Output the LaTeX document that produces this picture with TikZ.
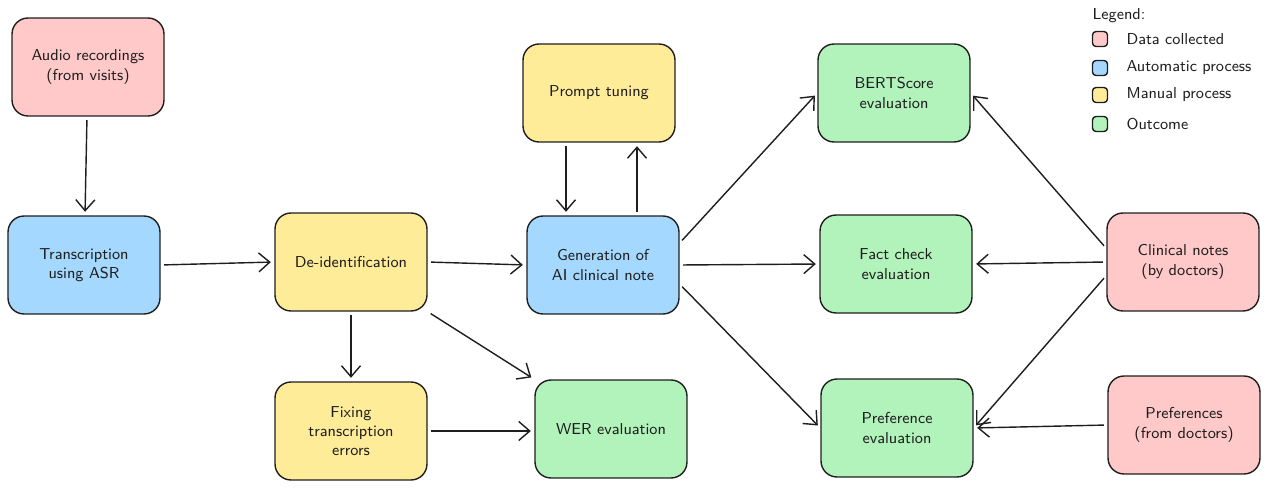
\documentclass[tikz,border=0pt]{standalone}
\usepackage{tikz}
\usetikzlibrary{arrows.meta,positioning,calc}

\definecolor{datacol}{HTML}{FFC9C9}
\definecolor{autocol}{HTML}{A5D8FF}
\definecolor{manualcol}{HTML}{FFEC99}
\definecolor{outcol}{HTML}{B2F2BB}
\definecolor{pen}{HTML}{1E1E1E}

\begin{document}
\begin{tikzpicture}[x=0.02cm,y=-0.02cm,->,>={Straight Barb[length=2.2mm,width=3.8mm]},
  thick,draw=pen,shorten >=2pt,shorten <=2pt,
  box/.style={draw=pen,thick,rounded corners=0.32cm,minimum width=3.04cm,
    minimum height=1.96cm,align=center,font=\sffamily\small,text=pen},
  data/.style={box,fill=datacol},
  auto proc/.style={box,fill=autocol},
  manual proc/.style={box,fill=manualcol},
  outcome/.style={box,fill=outcol},
  key/.style={draw=pen,thick,rounded corners=0.07cm,minimum size=0.3cm,inner sep=0pt},
  key text/.style={anchor=west,font=\sffamily\small,text=pen}]
    \useasboundingbox (0,0) rectangle (1269,490);

    \node[data](audio) at (88,67) {Audio recordings\\(from visits)};
    \node[auto proc](asr) at (84,265) {Transcription\\using ASR};
    \node[manual proc](deid) at (351,262) {De-identification};
    \node[manual proc](fix) at (351,431) {Fixing\\transcription\\errors};
    \node[outcome](wer) at (611,429) {WER evaluation};
    \node[manual proc](prompt) at (599,93) {Prompt tuning};
    \node[auto proc](gen) at (603,265) {Generation of\\AI clinical note};
    \node[outcome](bert) at (894,93) {BERTScore\\evaluation};
    \node[outcome](fact) at (896,264) {Fact check\\evaluation};
    \node[outcome](pref) at (897,428) {Preference\\evaluation};
    \node[data](notes) at (1183,262) {Clinical notes\\(by doctors)};
    \node[data](prefs) at (1184,425) {Preferences\\(from doctors)};

    % legend
    \node[key text,anchor=west](legend) at (1086,16) {Legend:};
    \node[key,fill=datacol](k1) at (1100,39) {};
    \node[key,fill=autocol](k2) at (1100,68) {};
    \node[key,fill=manualcol](k3) at (1100,95) {};
    \node[key,fill=outcol](k4) at (1100,124) {};
    \node[key text] at (1120,39) {Data collected};
    \node[key text] at (1120,68) {Automatic process};
    \node[key text] at (1120,95) {Manual process};
    \node[key text] at (1120,124) {Outcome};

    \draw (audio) -- (asr);
    \draw (asr.east) -- (deid.west);
    \draw (deid.east) -- (gen.west);
    \draw (deid.south) -- (fix.north);
    \draw (deid.south east) -- (wer.north west);
    \draw (fix.east) -- (fix.east -| wer.west);
    \draw ($(prompt.south)+(-33,0)$) -- ($(gen.north)+(-37,0)$);
    \draw ($(gen.north)+(34,0)$) -- ($(prompt.south)+(38,0)$);
    \draw (gen.16) -- (bert.west);
    \draw (gen.east) -- (fact.west);
    \draw (gen.-14) -- (pref.west);
    \draw (notes.170) -- (bert.east);
    \draw (notes.west) -- (fact.east);
    \draw (notes.190) -- (pref.east);
    \draw (prefs.west) -- (pref.east);
\end{tikzpicture}
\end{document}
